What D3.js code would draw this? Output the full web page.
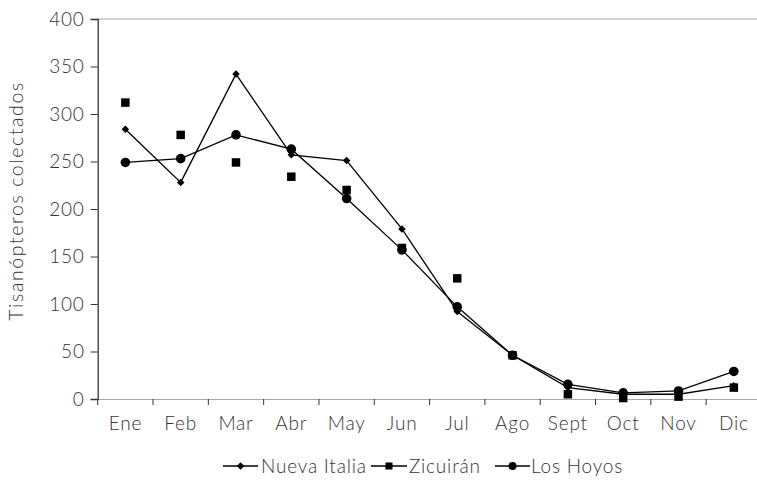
<!DOCTYPE html>
<html><head><meta charset="utf-8">
<script src="https://cdn.jsdelivr.net/npm/d3@7"></script>
<style>
body{margin:0;background:#fff;}
svg text{font-family:Lato, "Open Sans", sans-serif;font-weight:300;fill:#333 !important;letter-spacing:0.8px;}
</style></head>
<body><svg id="c" width="757" height="486"></svg>
<script>
const months = ["Ene","Feb","Mar","Abr","May","Jun","Jul","Ago","Sept","Oct","Nov","Dic"];
const nuevaItalia = [284,228,342,257,251,179,92,46,12,5,5,14];
const zicuiran = [312,278,249,234,220,159,127,46,5,1,2.5,12];
const losHoyos = [249,253,278,263,211,157,97,46,15.5,6.5,8.5,29];
const yTicks = [0,50,100,150,200,250,300,350,400];

const svg = d3.select("#c");
const L = 97.7, R = 761.5, T = 19, B = 399;
const x = d3.scaleBand().domain(months).range([L,R]);
const y = d3.scaleLinear().domain([0,400]).range([B,T]);
const cx = m => x(m) + x.bandwidth()/2;

svg.append("line").attr("x1",L).attr("x2",R).attr("y1",y(400)).attr("y2",y(400))
  .attr("stroke","#a8a8a8").attr("stroke-width",1.2);

const xa = svg.append("g").attr("transform",`translate(0,${B})`)
  .call(d3.axisBottom(x).tickSize(0).tickPadding(18));
xa.select(".domain").attr("stroke","#a8a8a8").attr("stroke-width",1.2);
xa.selectAll("text").attr("font-size",19);
const bounds = months.map(m => x(m)).concat([R]);
svg.append("g").selectAll("line").data(bounds).join("line")
  .attr("x1",d=>d).attr("x2",d=>d).attr("y1",B).attr("y2",B+6)
  .attr("stroke","#333").attr("stroke-width",1);

const ya = svg.append("g").attr("transform",`translate(${L},0)`)
  .call(d3.axisLeft(y).tickValues(yTicks).tickSize(7).tickPadding(6));
ya.select(".domain").attr("stroke","#333").attr("stroke-width",1.3);
ya.selectAll(".tick line").attr("stroke","#333");
ya.selectAll("text").attr("font-size",19);

svg.append("text").attr("transform",`translate(23,${(T+B)/2 - 8}) rotate(-90)`)
  .attr("text-anchor","middle").attr("font-size",19.5).style("letter-spacing","1.6px").text("Tisanópteros colectados");

const line = d3.line().x((d,i)=>cx(months[i])).y(d=>y(d));
svg.append("path").datum(nuevaItalia).attr("d",line).attr("fill","none").attr("stroke","#000").attr("stroke-width",1.3);
svg.append("path").datum(losHoyos).attr("d",line).attr("fill","none").attr("stroke","#000").attr("stroke-width",1.3);

const shapes = {diamond:d3.symbolSquare, square:d3.symbolSquare, circle:d3.symbolCircle};
const sizes = {diamond:28, square:72, circle:72};
function marks(data, s){
  svg.append("g").selectAll("path").data(data).join("path")
    .attr("d",d3.symbol().type(shapes[s]).size(sizes[s])).attr("fill","#000")
    .attr("transform",(d,i)=>`translate(${cx(months[i])},${y(d)})${s==="diamond"?" rotate(45)":""}`);
}
marks(zicuiran,"square");
marks(losHoyos,"circle");
marks(nuevaItalia,"diamond");

const legend = [
  {name:"Nueva Italia", s:"diamond", x0:223, x1:258, tx:261},
  {name:"Zicuirán", s:"square", x0:371, x1:407, tx:409},
  {name:"Los Hoyos", s:"circle", x0:495, x1:530, tx:531}
];
const ly = 466;
const lg = svg.append("g");
legend.forEach(d=>{
  lg.append("line").attr("x1",d.x0).attr("x2",d.x1).attr("y1",ly).attr("y2",ly).attr("stroke","#000").attr("stroke-width",1.3);
  lg.append("path").attr("d", d3.symbol().type(shapes[d.s]).size(d.s==="diamond"?28:50)())
    .attr("transform",`translate(${(d.x0+d.x1)/2},${ly})${d.s==="diamond"?" rotate(45)":""}`).attr("fill","#000");
  lg.append("text").attr("x",d.tx).attr("y",ly).attr("dy","0.35em").attr("font-size",19).text(d.name);
});
</script></body></html>
